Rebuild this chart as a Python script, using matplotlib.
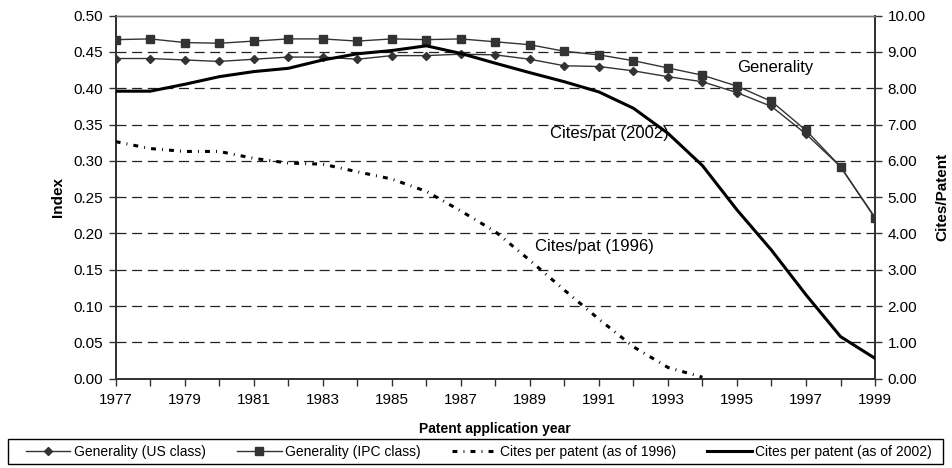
import numpy as np
import matplotlib
matplotlib.use("Agg")
import matplotlib.pyplot as plt
from matplotlib.patches import Rectangle
from matplotlib.ticker import FormatStrFormatter, MultipleLocator, FixedLocator

plt.rcParams['font.family'] = ['Liberation Sans', 'DejaVu Sans']
plt.rcParams['font.size'] = 10

# data
years = list(range(1977, 2000))
gen_us = [0.441, 0.441, 0.439, 0.437, 0.440, 0.443, 0.443, 0.440, 0.445, 0.445, 0.447, 0.446,
          0.440, 0.431, 0.430, 0.424, 0.416, 0.409, 0.394, 0.375, 0.337, 0.292, 0.221]
gen_ipc = [0.467, 0.468, 0.463, 0.462, 0.465, 0.468, 0.468, 0.465, 0.468, 0.467, 0.468, 0.464,
           0.460, 0.451, 0.446, 0.438, 0.428, 0.418, 0.403, 0.382, 0.342, 0.292, 0.222]
cites_1996 = [6.53, 6.34, 6.26, 6.26, 6.07, 5.94, 5.91, 5.70, 5.50, 5.16, 4.62, 4.05,
              3.26, 2.44, 1.64, 0.88, 0.31, 0.04]
cites_2002 = [7.92, 7.92, 8.11, 8.32, 8.46, 8.55, 8.78, 8.95, 9.04, 9.17, 8.96, 8.69,
              8.43, 8.18, 7.90, 7.45, 6.76, 5.87, 4.65, 3.54, 2.31, 1.16, 0.56]

labels = ["Generality (US class)", "Generality (IPC class)",
          "Cites per patent (as of 1996)", "Cites per patent (as of 2002)"]

fig = plt.figure(figsize=(9.53, 4.68), dpi=100)
ax = fig.add_axes([0.1214, 0.1908, 0.7968, 0.7757])
ax2 = ax.twinx()

grey = '#333333'
ax.set_xlim(1977, 1999)
ax.set_ylim(0, 0.5)
ax2.set_ylim(0, 10)

# grid
for v in np.arange(0.05, 0.5, 0.05):
    ax.axhline(v, color='#222222', lw=0.9, dashes=(8, 4.5), zorder=1)

l1, = ax.plot(years, gen_us, color=grey, lw=1.0, marker='D', ms=4.5,
              mfc=grey, mec=grey, zorder=3)
l2, = ax.plot(years, gen_ipc, color=grey, lw=1.0, marker='s', ms=6,
              mfc=grey, mec=grey, zorder=3)
l3, = ax2.plot(years[:len(cites_1996)], cites_1996, color='black', lw=2.2,
               dashes=(1.6, 2.0, 0.3, 2.0), zorder=3)
l4, = ax2.plot(years, cites_2002, color='black', lw=2.2, zorder=3)

ax.xaxis.set_major_locator(FixedLocator(years[::2]))
ax.xaxis.set_minor_locator(MultipleLocator(1))
ax.yaxis.set_major_locator(MultipleLocator(0.05))
ax.yaxis.set_major_formatter(FormatStrFormatter('%.2f'))
ax2.yaxis.set_major_locator(MultipleLocator(1))
ax2.yaxis.set_major_formatter(FormatStrFormatter('%.2f'))

ax.tick_params(axis='x', which='both', direction='out', length=5, width=1, color=grey, labelsize=11, pad=5)
ax.tick_params(axis='y', direction='out', length=5, width=1, color=grey, labelsize=11, pad=4)
ax2.tick_params(axis='y', direction='out', length=5, width=1, color=grey, labelsize=11, pad=4)

for a in (ax, ax2):
    for s in a.spines.values():
        s.set_color(grey)
        s.set_linewidth(1.3)
    a.spines['top'].set_color('#777777')
    a.spines['top'].set_linewidth(1.0)

ax.set_xlabel("Patent application year", fontweight='bold', fontsize=10, labelpad=11)
ax.set_ylabel("Index", fontweight='bold', fontsize=11, labelpad=6)
ax2.set_ylabel("Cites/Patent", fontweight='bold', fontsize=11, labelpad=7)

ax.text(1995.0, 0.428, "Generality", fontsize=12, va='center', ha='left')
ax.text(1989.59, 0.338, "Cites/pat (2002)", fontsize=12, va='center', ha='left')
ax.text(1989.15, 0.182, "Cites/pat (1996)", fontsize=12, va='center', ha='left')

# legend box spans the bottom of the figure
fig.patches.append(Rectangle((8 / 953, 4 / 468), 935 / 953, 25 / 468, transform=fig.transFigure,
                             fill=False, edgecolor='black', lw=1.0))
leg = fig.legend([l1, l2, l3, l4], labels, ncol=4, loc='lower left',
                 bbox_to_anchor=(21 / 953, 4 / 468, 916 / 953, 25 / 468), mode='expand',
                 frameon=False, fontsize=10,
                 handlelength=3.2, handletextpad=0.25, borderpad=0.35, borderaxespad=0)

fig.savefig("out.png", dpi=100)
